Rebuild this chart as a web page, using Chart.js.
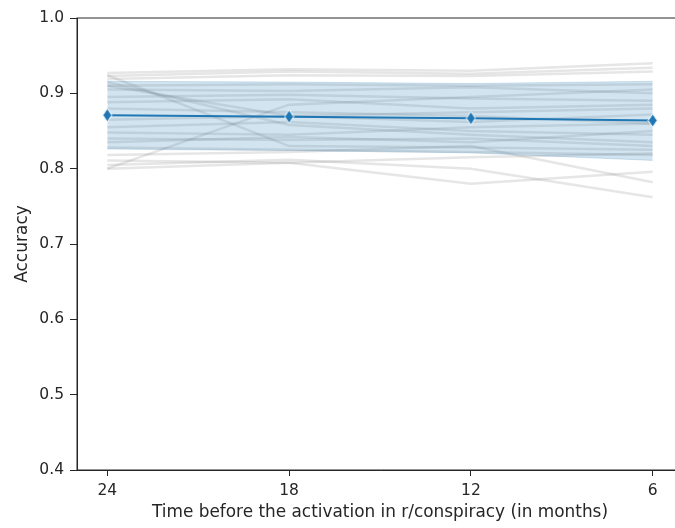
<!DOCTYPE html>
<html>
<head>
<meta charset="utf-8">
<script src="https://cdn.jsdelivr.net/npm/chart.js@4"></script>
<style>
  html, body { margin: 0; padding: 0; background: #fff; overflow: hidden; }
  canvas { display: block; }
</style>
</head>
<body>
<canvas id="myChart" width="700" height="528" style="width:700px;height:528px"></canvas>
<script>
// months before activation (x positions)
const months = [24, 18, 12, 6];
const xTicks = [24, 18, 12, 6];
const yTicks = [0.4, 0.5, 0.6, 0.7, 0.8, 0.9, 1.0];

// mean accuracy and the shaded band around it
const meanAcc = [0.871, 0.869, 0.867, 0.864];
const bandTop = [0.916, 0.915, 0.913, 0.916];
const bandBottom = [0.826, 0.824, 0.821, 0.811];

// individual runs (grey lines)
const runs = [
  [0.927, 0.932, 0.930, 0.940],
  [0.923, 0.929, 0.926, 0.934],
  [0.919, 0.924, 0.923, 0.929],
  [0.924, 0.830, 0.828, 0.825],
  [0.800, 0.885, 0.895, 0.905],
  [0.915, 0.858, 0.845, 0.835],
  [0.910, 0.912, 0.910, 0.912],
  [0.905, 0.903, 0.908, 0.900],
  [0.895, 0.898, 0.893, 0.890],
  [0.888, 0.892, 0.880, 0.885],
  [0.880, 0.875, 0.870, 0.860],
  [0.865, 0.870, 0.875, 0.880],
  [0.855, 0.862, 0.850, 0.845],
  [0.848, 0.845, 0.855, 0.860],
  [0.840, 0.838, 0.840, 0.830],
  [0.835, 0.842, 0.835, 0.850],
  [0.828, 0.825, 0.822, 0.818],
  [0.818, 0.822, 0.830, 0.782],
  [0.811, 0.808, 0.780, 0.796],
  [0.805, 0.812, 0.800, 0.762],
  [0.800, 0.808, 0.815, 0.820],
  [0.910, 0.870, 0.862, 0.872]
];

const blue = '#1f77b4';
const ink = '#262626';
const toXY = vals => months.map((m, i) => ({ x: m, y: vals[i] }));

// thin diamond marker like matplotlib 'd'
const marker = document.createElement('canvas');
marker.width = 11;
marker.height = 15;
const mctx = marker.getContext('2d');
mctx.beginPath();
mctx.moveTo(5.5, 0.8);
mctx.lineTo(10, 7.5);
mctx.lineTo(5.5, 14.2);
mctx.lineTo(1, 7.5);
mctx.closePath();
mctx.fillStyle = blue;
mctx.fill();
mctx.strokeStyle = '#fff';
mctx.lineWidth = 1;
mctx.stroke();

const datasets = [
  {
    data: toXY(meanAcc),
    borderColor: blue,
    borderWidth: 2,
    pointStyle: marker,
    pointRadius: 6,
    order: 0
  },
  {
    data: toXY(bandTop),
    borderColor: 'rgba(31,119,180,0.18)',
    borderWidth: 1,
    pointRadius: 0,
    backgroundColor: 'rgba(31,119,180,0.2)',
    fill: '+1',
    order: 1
  },
  {
    data: toXY(bandBottom),
    borderColor: 'rgba(31,119,180,0.18)',
    borderWidth: 1,
    pointRadius: 0,
    fill: false,
    order: 1
  }
];
runs.forEach(r => {
  datasets.push({
    data: toXY(r),
    borderColor: 'rgba(128,128,128,0.2)',
    borderWidth: 2.5,
    pointRadius: 0,
    fill: false,
    order: 2
  });
});

const frame = {
  id: 'frame',
  afterDraw(chart) {
    const a = chart.chartArea;
    const c = chart.ctx;
    c.save();
    c.strokeStyle = ink;
    c.lineWidth = 1;
    c.strokeRect(a.left, a.top, a.right - a.left, a.bottom - a.top);
    c.restore();
  }
};

const ctx = document.getElementById('myChart');

new Chart(ctx, {
  type: 'line',
  data: { datasets: datasets },
  plugins: [frame],
  options: {
    responsive: false,
    animation: false,
    layout: { padding: { top: 18, right: 17, left: 0, bottom: 0 } },
    plugins: { legend: { display: false }, tooltip: { enabled: false } },
    elements: { line: { tension: 0 } },
    scales: {
      x: {
        type: 'linear',
        reverse: true,
        min: 5,
        max: 25,
        afterBuildTicks: axis => { axis.ticks = xTicks.map(v => ({ value: v })); },
        afterFit: axis => { axis.height = 58; },
        grid: { drawOnChartArea: false, color: ink, tickLength: 6 },
        border: { color: ink },
        ticks: {
          color: ink,
          font: { family: 'DejaVu Sans', size: 15.5 },
          padding: 6,
          maxRotation: 0,
          callback: v => String(v)
        },
        title: {
          display: true,
          text: 'Time before the activation in r/conspiracy (in months)',
          color: ink,
          font: { family: 'DejaVu Sans', size: 16.9 },
          padding: { top: 0, bottom: 5 }
        }
      },
      y: {
        min: 0.4,
        max: 1.0,
        afterBuildTicks: axis => { axis.ticks = yTicks.map(v => ({ value: v })); },
        afterFit: axis => { axis.width = 77; },
        grid: { drawOnChartArea: false, color: ink, tickLength: 7 },
        border: { color: ink },
        ticks: {
          color: ink,
          font: { family: 'DejaVu Sans', size: 15.5 },
          padding: 6,
          callback: v => v.toFixed(1)
        },
        title: {
          display: true,
          text: 'Accuracy',
          color: ink,
          font: { family: 'DejaVu Sans', size: 17 },
          padding: { top: 12, bottom: 0 }
        }
      }
    }
  }
});
</script>
</body>
</html>
